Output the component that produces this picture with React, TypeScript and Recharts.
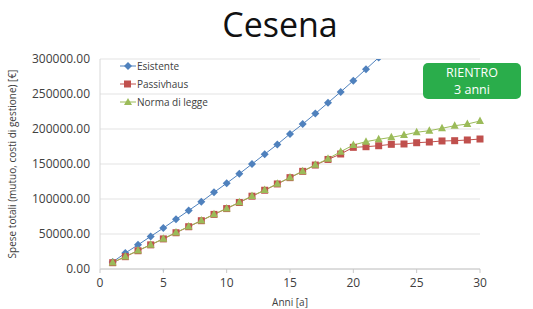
import React from "react";
import { CartesianGrid, Line, LineChart, XAxis, YAxis } from "recharts";

const years = [1, 2, 3, 4, 5, 6, 7, 8, 9, 10, 11, 12, 13, 14, 15, 16, 17, 18, 19, 20, 21, 22, 23, 24, 25, 26, 27, 28, 29, 30];
const esistente = [
  10000, 22800, 34500, 46500, 58500, 71000, 83500, 96000, 109500, 122500, 136000, 150000, 164000, 178000, 193000,
  207000, 222000, 237500, 253000, 269000, 285500, 302000, null, null, null, null, null, null, null, null,
];
const passivhaus = [
  9000, 17600, 26100, 34500, 43000, 51800, 60400, 69000, 78000, 86300, 95000, 104000, 112500, 121500, 130500,
  139500, 148500, 156500, 164300, 173800, 174700, 176100, 178100, 178600, 180400, 181400, 182900, 183300, 184300, 185700,
];
const normaDiLegge = [
  9300, 17900, 26400, 34800, 43300, 52100, 60700, 69300, 78300, 86600, 95300, 104300, 112800, 121800, 130800,
  139800, 148800, 157500, 167600, 177100, 181900, 185300, 188100, 191400, 195300, 197600, 201000, 204700, 207100, 211400,
];
const xTicks = [0, 5, 10, 15, 20, 25, 30];
const yTicks = [0, 50000, 100000, 150000, 200000, 250000, 300000];

const BLUE = "#4f81bd";
const RED = "#c0504d";
const GREEN = "#9bbb59";
const FONT = "'Open Sans', 'Noto Sans', sans-serif";

const data = years.map((y, i) => ({
  anno: y,
  esistente: esistente[i],
  passivhaus: passivhaus[i],
  norma: normaDiLegge[i],
}));

const Diamond = (props: any) => {
  const { cx, cy } = props;
  if (cx == null || cy == null) return null;
  return <polygon key={`d-${cx}`} points={`${cx},${cy - 4} ${cx + 4},${cy} ${cx},${cy + 4} ${cx - 4},${cy}`} fill={BLUE} />;
};

const Square = (props: any) => {
  const { cx, cy } = props;
  if (cx == null || cy == null) return null;
  return <rect key={`s-${cx}`} x={cx - 3.5} y={cy - 3.5} width={7} height={7} fill={RED} />;
};

const Triangle = (props: any) => {
  const { cx, cy } = props;
  if (cx == null || cy == null) return null;
  return <polygon key={`t-${cx}`} points={`${cx},${cy - 4.5} ${cx + 4},${cy + 3} ${cx - 4},${cy + 3}`} fill={GREEN} />;
};

const legendItems = [
  { name: "Esistente", color: BLUE, shape: "diamond" },
  { name: "Passivhaus", color: RED, shape: "square" },
  { name: "Norma di legge", color: GREEN, shape: "triangle" },
];

export default function App() {
  return (
    <div style={{ position: "absolute", left: 0, top: 0, width: 533, height: 309, background: "#fff", fontFamily: FONT }}>
      {/* Title */}
      <div
        style={{
          position: "absolute",
          left: 0,
          width: 560,
          top: 2,
          textAlign: "center",
          fontSize: 34,
          color: "#111",
          lineHeight: "44px",
        }}
      >
        Cesena
      </div>

      <LineChart width={533} height={309} data={data} margin={{ top: 59, right: 53, bottom: 0, left: 0 }}>
        <CartesianGrid vertical={false} stroke="#e3e3e3" />
        <XAxis
          dataKey="anno"
          type="number"
          domain={[0, 30]}
          ticks={xTicks}
          height={40}
          stroke="#c8c8c8"
          tickSize={4}
          tickMargin={5}
          tick={{ fill: "#404040", fontSize: 12, fontFamily: FONT }}
          label={{ value: "Anni [a]", position: "insideBottom", offset: 3, fill: "#404040", fontSize: 10, fontFamily: FONT }}
        />
        <YAxis
          type="number"
          domain={[0, 300000]}
          allowDataOverflow
          ticks={yTicks}
          width={100}
          stroke="#d8d8d8"
          tickLine={false}
          tickMargin={4}
          tickFormatter={(v: number) => v.toFixed(2)}
          tick={{ fill: "#404040", fontSize: 12, fontFamily: FONT }}
          label={{
            value: "Spese totali (mutuo, costi di gestione) [€]",
            angle: -90,
            position: "insideLeft",
            offset: 12,
            fill: "#404040",
            fontSize: 10,
            fontFamily: FONT,
            style: { textAnchor: "middle" },
          }}
        />
        <Line
          dataKey="esistente"
          stroke={BLUE}
          strokeWidth={1}
          dot={Diamond}
          activeDot={false}
          isAnimationActive={false}
        />
        <Line
          dataKey="passivhaus"
          stroke={RED}
          strokeWidth={1}
          dot={Square}
          activeDot={false}
          isAnimationActive={false}
        />
        <Line
          dataKey="norma"
          stroke={GREEN}
          strokeWidth={1}
          dot={Triangle}
          activeDot={false}
          isAnimationActive={false}
        />
      </LineChart>

      {/* Legend inside plot */}
      <div style={{ position: "absolute", left: 120, top: 57 }}>
        {legendItems.map((it) => (
          <div key={it.name} style={{ display: "flex", alignItems: "center", height: 18, fontSize: 10, color: "#404040" }}>
            <svg width={16} height={10} style={{ marginRight: 1 }}>
              <line x1={0} y1={5} x2={16} y2={5} stroke={it.color} strokeWidth={1} />
              {it.shape === "diamond" && <polygon points="8,1 12,5 8,9 4,5" fill={it.color} />}
              {it.shape === "square" && <rect x={4} y={1.5} width={7} height={7} fill={it.color} />}
              {it.shape === "triangle" && <polygon points="8,1 12,8 4,8" fill={it.color} />}
            </svg>
            {it.name}
          </div>
        ))}
      </div>

      {/* RIENTRO box */}
      <div
        style={{
          position: "absolute",
          left: 423,
          top: 63,
          width: 98,
          height: 36,
          background: "#2aad4b",
          borderRadius: 5,
          color: "#fff",
          fontSize: 12.5,
          lineHeight: "17px",
          textAlign: "center",
          display: "flex",
          flexDirection: "column",
          justifyContent: "center",
        }}
      >
        <div>RIENTRO</div>
        <div>3 anni</div>
      </div>
    </div>
  );
}
